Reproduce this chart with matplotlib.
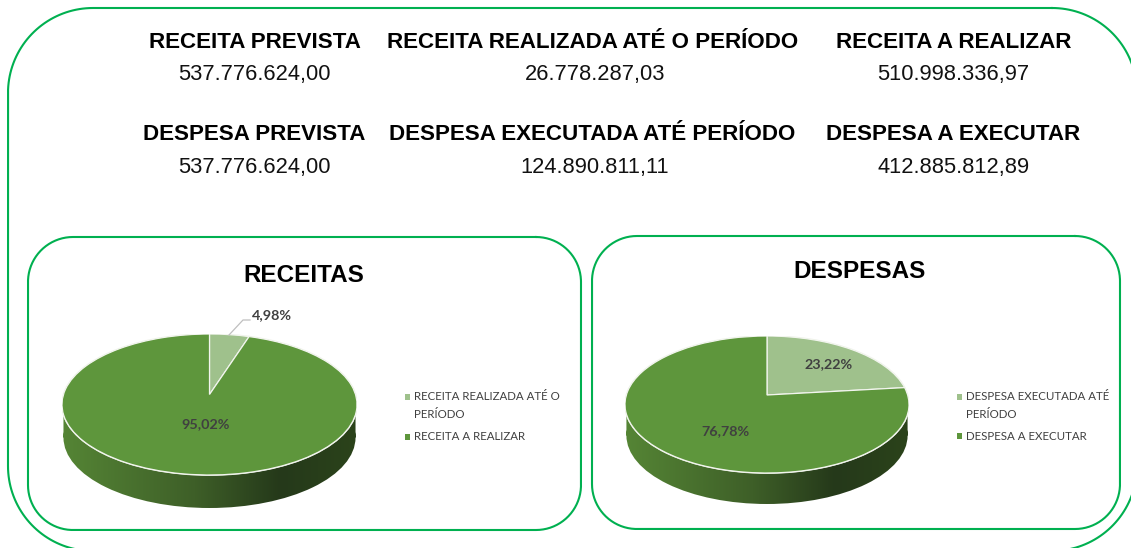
import matplotlib
matplotlib.use("Agg")
import matplotlib.pyplot as plt
import numpy as np
from matplotlib.patches import PathPatch, Ellipse, Rectangle
from matplotlib.path import Path
from matplotlib.colors import LinearSegmentedColormap

W, H = 1131, 548
GREEN = "#00b050"
LIGHT = "#9fc18c"
DARK = "#5e963c"
TXT = "#404040"

top_titles = ["RECEITA PREVISTA", "RECEITA REALIZADA ATÉ O PERÍODO", "RECEITA A REALIZAR"]
top_values = ["537.776.624,00", "26.778.287,03", "510.998.336,97"]
mid_titles = ["DESPESA PREVISTA", "DESPESA EXECUTADA ATÉ PERÍODO", "DESPESA A EXECUTAR"]
mid_values = ["537.776.624,00", "124.890.811,11", "412.885.812,89"]

rec_labels = ["RECEITA REALIZADA ATÉ O\nPERÍODO", "RECEITA A REALIZAR"]
rec_pct = [4.98, 95.02]
desp_labels = ["DESPESA EXECUTADA ATÉ\nPERÍODO", "DESPESA A EXECUTAR"]
desp_pct = [23.22, 76.78]

side_cmap = LinearSegmentedColormap.from_list(
    "side", [(0, "#558535"), (0.45, "#3e5f28"), (0.74, "#25391a"), (1, "#2b431b")])

fig = plt.figure(figsize=(W / 100, H / 100), dpi=100)
bg = fig.add_axes([0, 0, 1, 1])
bg.set_xlim(0, W)
bg.set_ylim(H, 0)
bg.axis("off")
bg.set_zorder(5)


def frame(x0, y0, x1, y1, r):
    # rounded box with true circular corners
    xs, ys = [], []
    corners = [(x1 - r, y0 + r, -90), (x1 - r, y1 - r, 0), (x0 + r, y1 - r, 90), (x0 + r, y0 + r, 180)]
    for cx, cy, a in corners:
        t = np.radians(np.linspace(a, a + 90, 40))
        xs.extend(cx + r * np.cos(t))
        ys.extend(cy + r * np.sin(t))
    xs.append(xs[0])
    ys.append(ys[0])
    bg.plot(xs, ys, color=GREEN, lw=1.5, clip_on=True)


frame(8, 8, 1137, 551, 85)
frame(28, 237, 581, 530, 45)
frame(592, 236, 1120, 529, 45)

col_x = [254.5, 592.5, 953.5]
val_x = [254.5, 595, 953.5]
for x, xv, t, v in zip(col_x, val_x, top_titles, top_values):
    bg.text(x, 42, t, ha="center", va="center", family="Liberation Sans", weight="bold", fontsize=16.1, color="black")
    bg.text(xv, 74.5, v, ha="center", va="center", family="Liberation Sans", fontsize=15.75, color="#111111")
for x, xv, t, v in zip(col_x, val_x, mid_titles, mid_values):
    bg.text(x, 135, t, ha="center", va="center", family="Liberation Sans", weight="bold", fontsize=16.1, color="black")
    bg.text(xv, 167.5, v, ha="center", va="center", family="Liberation Sans", fontsize=15.75, color="#111111")

bg.text(304, 275, "RECEITAS", ha="center", va="center", family="Liberation Sans", weight="bold", fontsize=17.5)
bg.text(860, 271, "DESPESAS", ha="center", va="center", family="Liberation Sans", weight="bold", fontsize=17.5)


def pie3d(pct, left, right, top, bottom, depth, apex_dy):
    ry = (bottom - top) / 2
    d = depth / ry
    c = apex_dy / ry
    ax = fig.add_axes([left / W, 1 - (bottom + depth) / H, (right - left) / W, (bottom + depth - top) / H])
    wedges, _ = ax.pie(pct, colors=[LIGHT, DARK], startangle=90, counterclock=False, radius=1)
    ax.set_aspect("auto")
    ax.axis("off")

    # side wall, gradient clipped to the lower ellipse
    img = ax.imshow(np.linspace(0, 1, 256).reshape(1, -1), cmap=side_cmap, extent=(-1, 1, -1 - d, 0),
                    aspect="auto", zorder=0)
    ell = Ellipse((0, -d), 1.98, 2)
    rect = Rectangle((-0.99, -d), 1.98, d)
    combo = Path.make_compound_path(ell.get_path().transformed(ell.get_patch_transform()),
                                    rect.get_path().transformed(rect.get_patch_transform()))
    img.set_clip_path(PathPatch(combo, transform=ax.transData))
    ax.set_xlim(-1, 1)
    ax.set_ylim(-1 - d, 1)

    # perspective of the disc: the rim stays put, the centre moves up by apex_dy
    ax.add_patch(Ellipse((0, 0), 2, 2, fc=DARK, ec="#f2f5ee", lw=1.2, zorder=1))
    for w in wedges:
        p = w.get_path()
        v = w.get_patch_transform().transform(p.vertices)
        den = 1 + c * v[:, 1]
        nv = np.column_stack([v[:, 0] * np.sqrt(1 - c * c) / den, (v[:, 1] + c) / den])
        w.remove()
        ax.add_patch(PathPatch(Path(nv, p.codes), fc=w.get_facecolor(), ec="#f2f5ee", lw=0.9, zorder=2))
    return ax


pie3d(rec_pct, 62, 357, 334, 475, 33, 10)
pie3d(desp_pct, 625, 909, 336, 473, 31, 9.5)

lab = dict(family="Lato", weight="bold", fontsize=10.4, color=TXT, ha="center", va="center")
bg.text(272, 315.5, "4,98%", **lab)
bg.text(206, 424, "95,02%", **lab)
bg.text(829, 364, "23,22%", **lab)
bg.text(725, 431, "76,78%", **lab)
bg.plot([229, 243, 250], [335, 320, 320], color="#bfbfbf", lw=0.9)


def legend(x, ys, labels):
    for y, l, c in zip(ys, labels, [LIGHT, DARK]):
        bg.add_patch(Rectangle((x - 9.5, y - 2.75), 5.5, 5.5, fc=c, ec="none"))
        for i, line in enumerate(l.split("\n")):
            bg.text(x, y + 17 * i, line, ha="left", va="center", family="Lato", fontsize=8.3, color=TXT)


legend(414, [397, 437], rec_labels)
legend(966, [397, 436], desp_labels)

fig.savefig("out.png", dpi=100)
